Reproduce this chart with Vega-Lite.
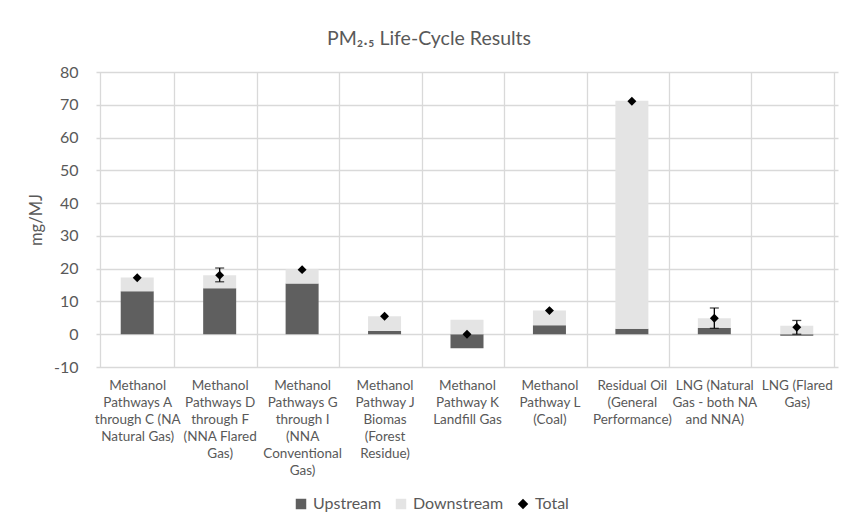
{
  "$schema": "https://vega.github.io/schema/vega-lite/v6.json",
  "autosize": "none",
  "width": 742,
  "height": 295,
  "padding": {"left": 96, "top": 72, "right": 5, "bottom": 157},
  "background": "white",
  "config": {
    "view": {"stroke": null},
    "font": "Lato",
    "axis": {"labelColor": "#595959", "titleColor": "#595959", "gridColor": "#d9d9d9", "gridWidth": 1.3},
    "axisY": {"labelOverlap": false}
  },
  "title": {
    "text": "PM₂.₅ Life-Cycle Results",
    "fontSize": 19.5,
    "fontWeight": "normal",
    "color": "#595959",
    "offset": 15,
    "dx": -38,
    "font": "Lato"
  },
  "datasets": {
    "bars": [
      {"cat": "Methanol|Pathways A|through C (NA|Natural Gas)", "series": "Upstream", "value": 13.1},
      {"cat": "Methanol|Pathways A|through C (NA|Natural Gas)", "series": "Downstream", "value": 4.2},
      {"cat": "Methanol|Pathways D|through F|(NNA Flared|Gas)", "series": "Upstream", "value": 14.0},
      {"cat": "Methanol|Pathways D|through F|(NNA Flared|Gas)", "series": "Downstream", "value": 4.0},
      {"cat": "Methanol|Pathways G|through I|(NNA|Conventional|Gas)", "series": "Upstream", "value": 15.5},
      {"cat": "Methanol|Pathways G|through I|(NNA|Conventional|Gas)", "series": "Downstream", "value": 4.3},
      {"cat": "Methanol|Pathway J|Biomas|(Forest|Residue)", "series": "Upstream", "value": 1.0},
      {"cat": "Methanol|Pathway J|Biomas|(Forest|Residue)", "series": "Downstream", "value": 4.5},
      {"cat": "Methanol|Pathway K|Landfill Gas", "series": "Upstream", "value": -4.3},
      {"cat": "Methanol|Pathway K|Landfill Gas", "series": "Downstream", "value": 4.4},
      {"cat": "Methanol|Pathway L|(Coal)", "series": "Upstream", "value": 2.7},
      {"cat": "Methanol|Pathway L|(Coal)", "series": "Downstream", "value": 4.5},
      {"cat": "Residual Oil|(General|Performance)", "series": "Upstream", "value": 1.7},
      {"cat": "Residual Oil|(General|Performance)", "series": "Downstream", "value": 69.5},
      {"cat": "LNG (Natural|Gas - both NA|and NNA)", "series": "Upstream", "value": 1.9},
      {"cat": "LNG (Natural|Gas - both NA|and NNA)", "series": "Downstream", "value": 3.0},
      {"cat": "LNG (Flared|Gas)", "series": "Upstream", "value": -0.5},
      {"cat": "LNG (Flared|Gas)", "series": "Downstream", "value": 2.6}
    ],
    "totals": [
      {"cat": "Methanol|Pathways A|through C (NA|Natural Gas)", "series": "Total", "total": 17.2},
      {"cat": "Methanol|Pathways D|through F|(NNA Flared|Gas)", "series": "Total", "total": 18.0, "lo": 16.0, "hi": 20.2},
      {"cat": "Methanol|Pathways G|through I|(NNA|Conventional|Gas)", "series": "Total", "total": 19.7},
      {"cat": "Methanol|Pathway J|Biomas|(Forest|Residue)", "series": "Total", "total": 5.5},
      {"cat": "Methanol|Pathway K|Landfill Gas", "series": "Total", "total": 0.0},
      {"cat": "Methanol|Pathway L|(Coal)", "series": "Total", "total": 7.2},
      {"cat": "Residual Oil|(General|Performance)", "series": "Total", "total": 71.1},
      {"cat": "LNG (Natural|Gas - both NA|and NNA)", "series": "Total", "total": 4.9, "lo": 1.8, "hi": 8.0},
      {"cat": "LNG (Flared|Gas)", "series": "Total", "total": 2.1, "lo": 0.0, "hi": 4.2}
    ]
  },
  "layer": [
    {
      "data": {"name": "bars"},
      "mark": {"type": "bar", "width": 33},
      "encoding": {
        "x": {
          "field": "cat", "type": "nominal", "sort": null,
          "axis": {
            "title": null, "labelAngle": 0, "ticks": false, "domain": false,
            "grid": true, "tickBand": "extent",
            "labelExpr": "split(datum.label, '|')",
            "labelFontSize": 13.5, "labelLineHeight": 17, "labelPadding": 11,
            "labelBaseline": "top", "labelLimit": 0
          }
        },
        "y": {
          "field": "value", "type": "quantitative", "stack": "zero",
          "scale": {"domain": [-10, 80], "nice": false},
          "axis": {
            "title": "mg/MJ", "titleFontSize": 16.5, "titleFontWeight": "normal", "titlePadding": 9,
            "values": [-10, 0, 10, 20, 30, 40, 50, 60, 70, 80],
            "tickCount": 10,
            "labelOverlap": false,
            "labelExpr": "'' + datum.value",
            "ticks": false, "domain": false, "labelFontSize": 16, "labelPadding": 18
          }
        },
        "color": {
          "field": "series", "type": "nominal",
          "scale": {"domain": ["Upstream", "Downstream", "Total"], "range": ["#5f5f5f", "#e4e4e4", "#000000"]},
          "legend": {
            "title": null, "orient": "none", "direction": "horizontal",
            "legendX": 197, "legendY": 424,
            "labelFontSize": 16, "labelColor": "#595959", "symbolSize": 110,
            "symbolStrokeWidth": 0, "columnPadding": 11,
            "encode": {
              "symbols": {"update": {"shape": {"signal": "datum.value === 'Total' ? 'diamond' : 'square'"}, "strokeWidth": {"value": 0}}}
            }
          }
        },
        "order": {"field": "series", "sort": "descending"}
      }
    },
    {
      "data": {"name": "totals"},
      "transform": [{"filter": "isValid(datum.hi)"}],
      "mark": {"type": "rule", "color": "black", "strokeWidth": 1.3},
      "encoding": {
        "x": {"field": "cat", "type": "nominal", "sort": null},
        "y": {"field": "lo", "type": "quantitative", "axis": {"values": [-10, 0, 10, 20, 30, 40, 50, 60, 70, 80], "labelOverlap": false}},
        "y2": {"field": "hi"}
      }
    },
    {
      "data": {"name": "totals"},
      "transform": [{"filter": "isValid(datum.hi)"}],
      "mark": {"type": "tick", "color": "black", "thickness": 1.3, "size": 9, "orient": "horizontal"},
      "encoding": {
        "x": {"field": "cat", "type": "nominal", "sort": null},
        "y": {"field": "hi", "type": "quantitative", "axis": {"values": [-10, 0, 10, 20, 30, 40, 50, 60, 70, 80], "labelOverlap": false}}
      }
    },
    {
      "data": {"name": "totals"},
      "transform": [{"filter": "isValid(datum.lo)"}],
      "mark": {"type": "tick", "color": "black", "thickness": 1.3, "size": 9, "orient": "horizontal"},
      "encoding": {
        "x": {"field": "cat", "type": "nominal", "sort": null},
        "y": {"field": "lo", "type": "quantitative", "axis": {"values": [-10, 0, 10, 20, 30, 40, 50, 60, 70, 80], "labelOverlap": false}}
      }
    },
    {
      "data": {"name": "totals"},
      "mark": {"type": "point", "shape": "diamond", "filled": true, "size": 80, "opacity": 1},
      "encoding": {
        "x": {"field": "cat", "type": "nominal", "sort": null},
        "y": {"field": "total", "type": "quantitative", "axis": {"values": [-10, 0, 10, 20, 30, 40, 50, 60, 70, 80], "labelOverlap": false}},
        "color": {"field": "series", "type": "nominal"}
      }
    }
  ]
}
